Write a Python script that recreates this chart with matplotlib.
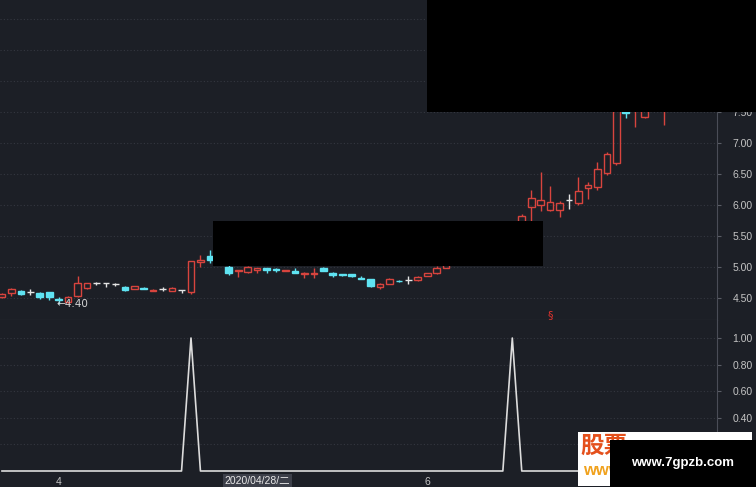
import numpy as np
import matplotlib
matplotlib.use('Agg')
import matplotlib.pyplot as plt
from matplotlib.patches import Rectangle

plt.rcParams['font.family'] = ['Liberation Sans', 'Noto Sans CJK SC']

nan = np.nan
# daily candles (index = trading day), nan = hidden under a redaction box
opens  = [4.52, 4.58, 4.62, 4.60, 4.58, 4.59, 4.48, 4.44, 4.54, 4.66,
          4.74, 4.75, 4.73, 4.68, 4.65, 4.66, 4.62, 4.65, 4.62, 4.63,
          4.59, 5.08, 5.18, nan, 5.00, 4.93, 4.92, 4.95, 4.98, 4.97,
          4.93, 4.94, 4.88, 4.89, 4.98, 4.91, 4.89, 4.88, 4.82, 4.80,
          4.68, 4.73, 4.78, 4.79, 4.79, 4.86, 4.90, 4.99, nan, nan,
          nan, nan, nan, nan, nan, 5.62, 5.97, 6.00, 5.92, 5.92,
          6.08, 6.04, 6.27, 6.29, 6.51, 6.67, 7.55, 7.55, 7.42, nan, 7.60]
highs  = [4.58, 4.66, 4.63, 4.65, 4.59, 4.60, 4.52, 4.53, 4.86, 4.75,
          4.76, 4.75, 4.74, 4.69, 4.70, 4.67, 4.64, 4.67, 4.67, 4.63,
          5.10, 5.19, 5.27, nan, 5.05, 4.95, 5.02, 4.99, 4.99, 4.98,
          4.95, 4.99, 4.92, 4.98, 5.00, 4.92, 4.89, 4.88, 4.85, 4.80,
          4.74, 4.83, 4.79, 4.85, 4.86, 4.91, 5.02, 5.08, nan, nan,
          nan, nan, nan, nan, nan, 5.85, 6.25, 6.53, 6.30, 6.07,
          6.18, 6.45, 6.37, 6.70, 6.85, 7.65, 7.60, 7.80, 7.70, nan, 7.80]
lows   = [4.50, 4.53, 4.55, 4.55, 4.48, 4.46, 4.40, 4.42, 4.52, 4.65,
          4.71, 4.68, 4.69, 4.61, 4.64, 4.64, 4.61, 4.62, 4.61, 4.58,
          4.56, 5.00, 5.07, nan, 4.87, 4.84, 4.91, 4.90, 4.90, 4.92,
          4.93, 4.90, 4.82, 4.82, 4.93, 4.84, 4.85, 4.84, 4.80, 4.68,
          4.64, 4.72, 4.76, 4.72, 4.78, 4.85, 4.89, 4.98, nan, nan,
          nan, nan, nan, nan, nan, 5.58, 5.75, 5.90, 5.90, 5.81,
          5.93, 6.00, 6.09, 6.25, 6.48, 6.65, 7.40, 7.26, 7.40, nan, 7.29]
closes = [4.56, 4.65, 4.56, 4.60, 4.52, 4.51, 4.46, 4.52, 4.74, 4.74,
          4.74, 4.75, 4.73, 4.63, 4.69, 4.65, 4.63, 4.65, 4.66, 4.63,
          5.10, 5.12, 5.11, nan, 4.90, 4.95, 5.00, 4.98, 4.95, 4.95,
          4.95, 4.90, 4.91, 4.91, 4.94, 4.87, 4.87, 4.86, 4.81, 4.69,
          4.73, 4.81, 4.77, 4.79, 4.84, 4.90, 4.98, 5.05, nan, nan,
          nan, nan, nan, nan, nan, 5.82, 6.11, 6.08, 6.05, 6.04,
          6.08, 6.23, 6.33, 6.58, 6.82, 7.60, 7.49, 7.70, 7.60, nan, 7.70]

signal_days = [20, 54]          # indicator fires (value 1) on these days
price_ticks = [4.5, 5.0, 5.5, 6.0, 6.5, 7.0, 7.5, 8.0, 8.5, 9.0]
ind_ticks = [0.2, 0.4, 0.6, 0.8, 1.0]
month_days = [6, 45]
month_labels = ['4', '6']
cursor_day = 27
cursor_label = '2020/04/28/二'
low_day, low_price = 6, 4.40
sig_day, sig_y = 58, 4.225

bg = '#1c1f26'
red = '#d8443e'
cyan = '#5fe3f2'
white = '#e4e4e4'
grid_c = '#343740'
txt_c = '#c4c4c4'
W, H = 756, 487

fig = plt.figure(figsize=(7.56, 4.87), dpi=100, facecolor=bg)
ax = fig.add_axes([0, (H - 320) / H, 717 / W, 320 / H], facecolor=bg)
ax2 = fig.add_axes([0, (H - 474) / H, 717 / W, 154 / H], facecolor=bg)

n = len(opens)
x = np.arange(n)
bw = 0.7
for i in x:
    o, h, l, c = opens[i], highs[i], lows[i], closes[i]
    if np.isnan(o):
        continue
    if c > o:
        ax.vlines(i, c, h, color=red, lw=1)
        ax.vlines(i, l, o, color=red, lw=1)
        ax.add_patch(Rectangle((i - bw / 2, o), bw, c - o, fill=False,
                               edgecolor=red, lw=1))
    elif c < o:
        ax.vlines(i, l, h, color=cyan, lw=1)
        ax.add_patch(Rectangle((i - bw / 2, c), bw, o - c, facecolor=cyan,
                               edgecolor=cyan, lw=1))
    else:
        ax.vlines(i, l, h, color=white, lw=1)
        ax.hlines(o, i - bw / 2, i + bw / 2, color=white, lw=1)

ax.set_xlim(-0.21, 75.66)
ax.set_ylim(5 - 53 / 62, 5 + 267 / 62)
ax.set_yticks(price_ticks)
ax.set_yticklabels(['%.2f' % v for v in price_ticks])
for v in price_ticks:
    ax.axhline(v, color=grid_c, lw=0.8, ls=(0, (1, 2)), zorder=0)

ax.text(low_day - 0.2, low_price, '←4.40', color='#d6d6d6', fontsize=7.5,
        va='center', ha='left', family=['DejaVu Sans'])
ax.text(sig_day, sig_y, '§', color='#e0332e', fontsize=8, va='center',
        ha='center', family=['DejaVu Sans'])

# indicator panel
signal = np.zeros(n)
signal[signal_days] = 1
ax2.plot(x, signal, color='#dcdcdc', lw=1.2)
ax2.set_xlim(-0.21, 75.66)
ax2.set_ylim(-3 / 133, 1 + 18 / 133)
ax2.set_yticks(ind_ticks)
ax2.set_yticklabels(['%.2f' % v for v in ind_ticks])
for v in ind_ticks:
    ax2.axhline(v, color=grid_c, lw=0.8, ls=(0, (1, 2)), zorder=0)
ax2.set_xticks(month_days)
ax2.set_xticklabels(month_labels)
ax2.text(cursor_day, -7 / 154, cursor_label, transform=ax2.get_xaxis_transform(),
         color='#e8e8e8', fontsize=7.5, ha='center', va='center',
         bbox=dict(facecolor='#3c3f49', edgecolor='none', pad=1.2))

for a in (ax, ax2):
    a.yaxis.tick_right()
    a.tick_params(axis='y', colors='#5a5d66', labelcolor=txt_c, labelsize=7.5,
                  length=3, width=0.8, pad=8)
    for s in ('left', 'top'):
        a.spines[s].set_visible(False)
    a.spines['right'].set_color('#4a4d57')
    a.spines['bottom'].set_color('#4a4d57')
ax.tick_params(axis='x', bottom=False, labelbottom=False)
ax2.spines['bottom'].set_visible(False)
ax2.tick_params(axis='x', colors=txt_c, labelsize=7.5, length=0, pad=2)


def box(x0, y0, x1, y1, z=10, **kw):
    fig.patches.append(Rectangle((x0 / W, 1 - y1 / H), (x1 - x0) / W,
                                 (y1 - y0) / H, transform=fig.transFigure,
                                 zorder=z, **kw))


# redaction boxes
box(427, 0, 756, 112, facecolor='black', edgecolor='none')
box(213, 221, 543, 266, facecolor='black', edgecolor='none')

# watermark
box(578, 432, 752, 486, z=10, facecolor='white', edgecolor='none')
fig.text(580 / W, 1 - 446 / H, '股票', color='#e4501c', fontsize=17,
         fontweight='bold', va='center', ha='left', zorder=11,
         family=['Noto Sans CJK SC'])
fig.text(583 / W, 1 - 471 / H, 'www.7gpzb.com', color='#f0a21e', fontsize=12,
         fontweight='bold', va='center', ha='left', zorder=11)
box(610, 440, 756, 487, z=12, facecolor='black', edgecolor='none')
fig.text(683 / W, 1 - 463 / H, 'www.7gpzb.com', color='white', fontsize=9.5,
         fontweight='bold', va='center', ha='center', zorder=13,
         family=['Liberation Sans'])

fig.savefig('out.png', dpi=100, facecolor=bg)
